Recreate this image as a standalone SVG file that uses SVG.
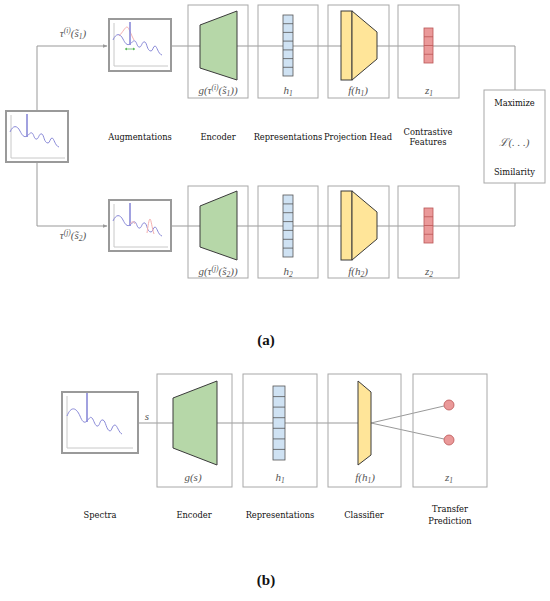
<svg xmlns="http://www.w3.org/2000/svg" width="550" height="601" viewBox="0 0 550 601">
<defs>
<style>
.box{fill:none;stroke:#a8a8a8;stroke-width:1}
.pbox{fill:#fff;stroke:#9a9a9a;stroke-width:2}
.con{fill:none;stroke:#999;stroke-width:1}
.enc{fill:#b6d7a8;stroke:#3a3a3a;stroke-width:1}
.yel{fill:#ffe599;stroke:#3a3a3a;stroke-width:1}
.blue{fill:#cfe2f3;stroke:#555;stroke-width:0.8}
.red{fill:#ea9999;stroke:#b55;stroke-width:0.8}
.axis{fill:none;stroke:#c8c8c8;stroke-width:1}
.spec{fill:none;stroke:#8a8ad8;stroke-width:1}
.peak{fill:none;stroke:#8a8ad8;stroke-width:1.6}
.pink{fill:none;stroke:#f4b0b0;stroke-width:1}
.lbl{font-family:"DejaVu Serif",serif;font-size:8.3px;fill:#111;text-anchor:middle}
.math{font-family:"Liberation Serif",serif;font-style:italic;font-size:11px;fill:#555;text-anchor:middle}
.cap{font-family:"Liberation Serif",serif;font-weight:bold;font-size:15px;fill:#111;text-anchor:middle}
</style>
<marker id="arr" viewBox="0 0 10 10" refX="9" refY="5" markerWidth="5" markerHeight="5" orient="auto">
<path d="M0,1 L10,5 L0,9 z" fill="#999"/>
</marker>
<g id="spectrum">
<path class="axis" d="M5,4 V47 H59"/>
<path class="spec" d="M4,21 C7,14 11,14 14,20 C16,24 18,27 21,25 C23,24 24,21 26,22 C28,23 28,29 31,28 C33,27 33,22 36,23 C38,24 38,32 42,32 C44,32 44,27 46,27 C48,27 49,35 53,36"/>
<path class="peak" d="M21,3 V26"/>
</g>
</defs>

<g id="connectors">
<path class="con" d="M37,111 V46 H107" marker-end="url(#arr)"/>
<path class="con" d="M37,162 V226 H107" marker-end="url(#arr)"/>
<path class="con" d="M171,46 H515 V90"/>
<path class="con" d="M171,226 H515 V183"/>
<path class="con" d="M138,423 H358"/>
<path class="con" d="M371,423 L444,406"/>
<path class="con" d="M371,423 L444,439"/>
</g>

<g id="input">
<rect class="pbox" x="6" y="111" width="62" height="51"/>
<use href="#spectrum" x="6" y="111"/>
</g>

<g id="tau1-label"><text class="math" x="73" y="37">τ<tspan font-size="7.5" dy="-4">(i)</tspan><tspan dy="4">(s̃</tspan><tspan font-size="7.5" dy="2">1</tspan><tspan dy="-2">)</tspan></text></g>
<g id="tau2-label"><text class="math" x="73" y="239">τ<tspan font-size="7.5" dy="-4">(j)</tspan><tspan dy="4">(s̃</tspan><tspan font-size="7.5" dy="2">2</tspan><tspan dy="-2">)</tspan></text></g>

<g id="aug1">
<rect class="pbox" x="109" y="19" width="62" height="52"/>
<path class="pink" d="M119,36 C123,32 125,27 127,27 C129,27 131,35 134,40"/>
<use href="#spectrum" x="109" y="19"/>
<path d="M125,49 H135" stroke="#5cb85c" stroke-width="0.8"/>
<path d="M125,49 l2,-1.5 v3 z M135,49 l-2,-1.5 v3 z" fill="#5cb85c"/>
</g>

<g id="aug2">
<rect class="pbox" x="109" y="200" width="62" height="51"/>
<use href="#spectrum" x="109" y="200"/>
<path class="pink" d="M130,224 C132,221 134,221 135,224 M147,233 C148,226 149,219 150,219 C151,219 152,228 154,234"/>
</g>

<g id="enc1">
<rect class="box" x="188" y="5" width="60" height="93"/>
<polygon class="enc" points="200,25 237,11 237,80 200,68"/>
<text class="math" x="218" y="94">g(τ<tspan font-size="7.5" dy="-4">(i)</tspan><tspan dy="4">(s̃</tspan><tspan font-size="7.5" dy="2">1</tspan><tspan dy="-2">))</tspan></text>
</g>
<g id="enc2">
<rect class="box" x="188" y="186" width="60" height="92"/>
<polygon class="enc" points="200,206 237,191 237,260 200,247"/>
<text class="math" x="218" y="275">g(τ<tspan font-size="7.5" dy="-4">(j)</tspan><tspan dy="4">(s̃</tspan><tspan font-size="7.5" dy="2">2</tspan><tspan dy="-2">))</tspan></text>
</g>

<g id="rep1">
<rect class="box" x="258" y="5" width="60" height="93"/>
<rect class="blue" x="283" y="15" width="10" height="61"/>
<path class="blue" d="M283,23.7 H293 M283,32.4 H293 M283,41.1 H293 M283,49.9 H293 M283,58.6 H293 M283,67.3 H293"/>
<text class="math" x="288" y="94">h<tspan font-size="7.5" dy="2">1</tspan></text>
</g>
<g id="rep2">
<rect class="box" x="258" y="186" width="60" height="92"/>
<rect class="blue" x="283" y="195" width="10" height="62"/>
<path class="blue" d="M283,203.9 H293 M283,212.7 H293 M283,221.6 H293 M283,230.4 H293 M283,239.3 H293 M283,248.1 H293"/>
<text class="math" x="288" y="275">h<tspan font-size="7.5" dy="2">2</tspan></text>
</g>

<g id="proj1">
<rect class="box" x="328" y="5" width="61" height="93"/>
<rect class="yel" x="341" y="11" width="11" height="69"/>
<polygon class="yel" points="352,11 377,32 377,59 352,80"/>
<text class="math" x="358" y="94">f(h<tspan font-size="7.5" dy="2">1</tspan><tspan dy="-2">)</tspan></text>
</g>
<g id="proj2">
<rect class="box" x="328" y="186" width="61" height="92"/>
<rect class="yel" x="341" y="191" width="11" height="69"/>
<polygon class="yel" points="352,191 377,212 377,239 352,260"/>
<text class="math" x="358" y="275">f(h<tspan font-size="7.5" dy="2">2</tspan><tspan dy="-2">)</tspan></text>
</g>

<g id="feat1">
<rect class="box" x="398" y="5" width="61" height="93"/>
<rect class="red" x="424" y="28" width="9" height="35"/>
<path class="red" d="M424,36.75 H433 M424,45.5 H433 M424,54.25 H433"/>
<text class="math" x="429" y="94">z<tspan font-size="7.5" dy="2">1</tspan></text>
</g>
<g id="feat2">
<rect class="box" x="398" y="186" width="61" height="92"/>
<rect class="red" x="424" y="208" width="9" height="35"/>
<path class="red" d="M424,216.75 H433 M424,225.5 H433 M424,234.25 H433"/>
<text class="math" x="429" y="275">z<tspan font-size="7.5" dy="2">2</tspan></text>
</g>

<g id="similarity">
<rect class="box" x="484" y="90" width="61" height="93"/>
<text class="lbl" x="514.5" y="106">Maximize</text>
<text class="math" x="514.5" y="146">ℒ(. . .)</text>
<text class="lbl" x="514.5" y="175">Similarity</text>
</g>

<g id="labels-a">
<text class="lbl" x="140" y="140">Augmentations</text>
<text class="lbl" x="218" y="140">Encoder</text>
<text class="lbl" x="288" y="140">Representations</text>
<text class="lbl" x="358" y="140">Projection Head</text>
<text class="lbl" x="428" y="135">Contrastive</text>
<text class="lbl" x="428" y="145">Features</text>
</g>

<text class="cap" x="266" y="345">(a)</text>

<g id="spectra-b">
<rect class="pbox" x="62" y="392" width="76" height="61"/>
<path class="axis" d="M67,396 V448 H133"/>
<path class="spec" d="M67,416 C71,406 76,407 80,416 C82,421 84,424 87,421 C89,419 90,416 92,418 C94,420 95,427 98,426 C100,425 100,419 103,420 C106,421 106,430 110,431 C112,431 112,425 115,425 C117,425 119,433 122,434"/>
<path class="peak" d="M87,393 V422"/>
</g>
<text class="math" x="147" y="420">s</text>

<g id="enc-b">
<rect class="box" x="157" y="374" width="75" height="113"/>
<polygon class="enc" points="173,398 217,381 217,465 173,448"/>
<text class="math" x="193" y="481">g(s)</text>
</g>

<g id="rep-b">
<rect class="box" x="243" y="374" width="74" height="113"/>
<rect class="blue" x="273" y="386" width="12" height="74"/>
<path class="blue" d="M273,396.6 H285 M273,407.1 H285 M273,417.7 H285 M273,428.3 H285 M273,438.9 H285 M273,449.4 H285"/>
<text class="math" x="280" y="481">h<tspan font-size="7.5" dy="2">1</tspan></text>
</g>

<g id="cls-b">
<rect class="box" x="328" y="374" width="73" height="113"/>
<polygon class="yel" points="358,381 371,392 371,455 358,465"/>
<text class="math" x="365" y="481">f(h<tspan font-size="7.5" dy="2">1</tspan><tspan dy="-2">)</tspan></text>
</g>

<g id="pred-b">
<rect class="box" x="413" y="374" width="74" height="113"/>
<circle cx="449" cy="405" r="5" fill="#ea9999" stroke="#b55" stroke-width="0.8"/>
<circle cx="449" cy="440" r="5" fill="#ea9999" stroke="#b55" stroke-width="0.8"/>
<text class="math" x="449" y="481">z<tspan font-size="7.5" dy="2">1</tspan></text>
</g>

<g id="labels-b">
<text class="lbl" x="100" y="518">Spectra</text>
<text class="lbl" x="194" y="518">Encoder</text>
<text class="lbl" x="280" y="518">Representations</text>
<text class="lbl" x="364" y="518">Classifier</text>
<text class="lbl" x="450" y="512">Transfer</text>
<text class="lbl" x="450" y="524">Prediction</text>
</g>

<text class="cap" x="266" y="585">(b)</text>
</svg>
